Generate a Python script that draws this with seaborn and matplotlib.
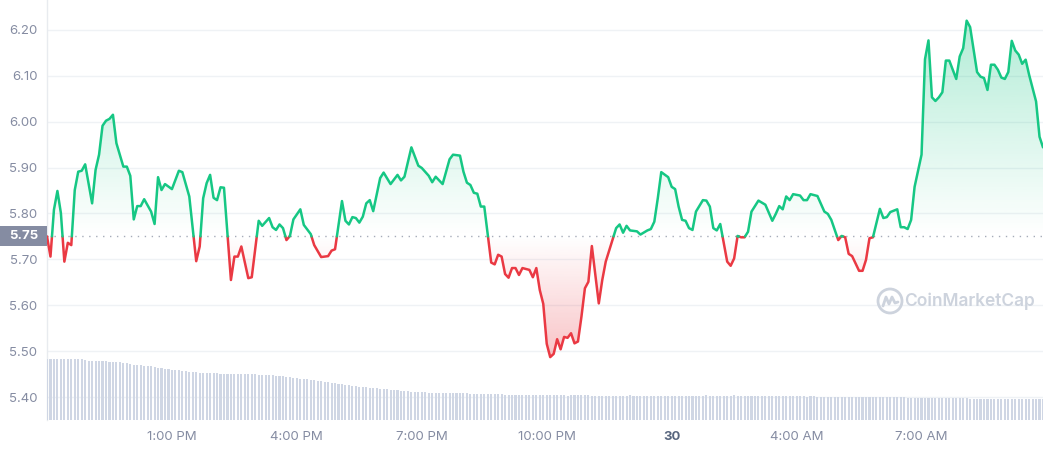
import numpy as np
import pandas as pd
import matplotlib
matplotlib.use("Agg")
import matplotlib.pyplot as plt
import seaborn as sns
import matplotlib.transforms as mtransforms
from matplotlib.path import Path
from matplotlib.patches import PathPatch, Rectangle, Ellipse
from matplotlib.lines import Line2D

# price series: minutes after 10:00 AM, price in USD
minutes = [0, 5, 10, 15, 20, 25, 30, 35, 40, 45, 50, 55, 65, 70, 75, 80, 85, 90, 95, 100,
           110, 115, 120, 125, 130, 135, 140, 150, 155, 160, 165, 170, 180, 190, 195, 205,
           215, 220, 225, 230, 235, 240, 245, 250, 255, 265, 270, 275, 280, 290, 295, 305,
           310, 320, 325, 330, 335, 340, 345, 350, 355, 365, 370, 380, 385, 395, 405, 410,
           415, 425, 430, 435, 440, 445, 450, 455, 460, 465, 470, 480, 485, 495, 505, 510,
           515, 525, 535, 540, 550, 555, 560, 570, 580, 585, 595, 600, 605, 610, 615, 620,
           625, 630, 640, 645, 650, 655, 660, 665, 670, 675, 680, 685, 695, 700, 705, 710,
           715, 720, 725, 730, 735, 740, 745, 750, 755, 760, 765, 770, 775, 780, 785, 795,
           800, 805, 820, 825, 830, 835, 840, 850, 855, 865, 870, 875, 880, 885, 895, 900,
           905, 910, 915, 920, 925, 930, 935, 945, 950, 955, 960, 965, 970, 980, 985, 990,
           995, 1000, 1005, 1010, 1015, 1025, 1035, 1045, 1050, 1055, 1060, 1065, 1070, 1075,
           1085, 1090, 1095, 1100, 1110, 1120, 1125, 1130, 1140, 1145, 1150, 1155, 1160, 1165,
           1170, 1175, 1180, 1185, 1190, 1195, 1200, 1205, 1210, 1215, 1225, 1230, 1235, 1240,
           1245, 1250, 1260, 1265, 1270, 1275, 1280, 1285, 1290, 1295, 1300, 1310, 1315, 1320,
           1325, 1330, 1340, 1345, 1350, 1355, 1360, 1365, 1370, 1375, 1380, 1385, 1390, 1395,
           1400, 1405, 1410, 1415, 1420, 1425, 1430, 1435]
price = [5.750, 5.706, 5.808, 5.849, 5.801, 5.695, 5.736, 5.731, 5.851, 5.891, 5.893, 5.907,
         5.822, 5.895, 5.928, 5.991, 6.002, 6.006, 6.015, 5.953, 5.902, 5.902, 5.882, 5.787,
         5.816, 5.816, 5.831, 5.804, 5.777, 5.879, 5.851, 5.864, 5.853, 5.893, 5.890, 5.837,
         5.696, 5.728, 5.833, 5.866, 5.884, 5.834, 5.829, 5.857, 5.856, 5.655, 5.706, 5.706,
         5.728, 5.659, 5.661, 5.784, 5.773, 5.790, 5.770, 5.764, 5.776, 5.768, 5.742, 5.751,
         5.787, 5.809, 5.775, 5.755, 5.731, 5.705, 5.707, 5.719, 5.722, 5.827, 5.784, 5.776,
         5.792, 5.790, 5.780, 5.793, 5.822, 5.829, 5.805, 5.877, 5.889, 5.864, 5.884, 5.872,
         5.880, 5.944, 5.904, 5.899, 5.882, 5.868, 5.880, 5.864, 5.918, 5.928, 5.926, 5.891,
         5.867, 5.862, 5.845, 5.843, 5.815, 5.815, 5.693, 5.689, 5.710, 5.706, 5.668, 5.660,
         5.681, 5.681, 5.666, 5.681, 5.677, 5.661, 5.681, 5.633, 5.603, 5.516, 5.487, 5.494,
         5.526, 5.504, 5.531, 5.529, 5.539, 5.517, 5.521, 5.575, 5.637, 5.651, 5.729, 5.604,
         5.655, 5.695, 5.768, 5.776, 5.758, 5.773, 5.763, 5.761, 5.754, 5.763, 5.766, 5.782,
         5.833, 5.890, 5.879, 5.858, 5.853, 5.815, 5.786, 5.784, 5.768, 5.764, 5.804, 5.829,
         5.828, 5.815, 5.768, 5.763, 5.777, 5.695, 5.686, 5.702, 5.751, 5.748, 5.748, 5.760,
         5.804, 5.828, 5.819, 5.784, 5.799, 5.816, 5.809, 5.837, 5.829, 5.842, 5.839, 5.829,
         5.829, 5.842, 5.838, 5.804, 5.799, 5.786, 5.742, 5.751, 5.748, 5.712, 5.707, 5.691,
         5.675, 5.675, 5.699, 5.746, 5.748, 5.779, 5.810, 5.790, 5.792, 5.803, 5.809, 5.770,
         5.770, 5.766, 5.786, 5.858, 5.928, 6.136, 6.177, 6.053, 6.045, 6.053, 6.064, 6.133,
         6.133, 6.093, 6.142, 6.160, 6.220, 6.206, 6.108, 6.098, 6.095, 6.069, 6.124, 6.124,
         6.113, 6.096, 6.093, 6.108, 6.176, 6.155, 6.146, 6.126, 6.135, 6.102, 6.073, 6.044,
         5.967, 5.944]

# volume bars, one every 5 minutes (relative units)
volume = [
    61, 61.5, 61, 61.5, 61, 61.5, 61.5, 61, 61.5, 61, 61, 60, 59.5, 59.5, 59.5, 59.5, 59, 59, 58.5, 58.5, 58, 58, 57.5, 57,
    56, 55.5, 55, 55, 54.5, 54, 54, 53, 52.5, 52, 51.5, 51, 50.5, 50, 50, 49.5, 49, 48.5, 48, 48, 47.5, 47.5, 47.5, 47,
    47, 47, 46.5, 46.5, 46.5, 46, 46, 46, 46.5, 46.5, 46, 46, 46, 45.5, 45.5, 45.5, 45, 45, 44.5, 44, 44, 43.5, 43, 42.5,
    42, 41.5, 41, 41, 40.5, 40, 39.5, 39, 38.5, 38, 37.5, 37, 36.5, 36, 35.5, 35, 34.5, 34, 33.5, 33, 33, 32.5, 32, 32,
    31.5, 31, 31, 30.5, 30, 30, 29.5, 29, 29, 28.5, 28.5, 28, 28, 28, 27.5, 27.5, 27.5, 27, 27, 27, 27, 27, 27, 27,
    27, 27, 26.5, 26.5, 26.5, 26.5, 26, 26, 26, 26, 26, 26, 25.5, 25.5, 25.5, 25.5, 25, 25, 25, 25, 25, 25, 25, 25,
    25, 25, 25, 25, 25, 25, 24.5, 25, 25, 25, 25, 25, 25, 24, 24, 24, 24, 24, 24, 24, 24.5, 24, 24, 24,
    25, 24, 24, 24, 24, 24, 24, 24, 24, 24, 24, 24, 24, 24, 24, 24, 24, 24.5, 24, 24, 24, 24, 25, 24,
    24, 24.5, 24, 24, 24.5, 24, 25, 24, 24.5, 24.5, 24, 24, 24, 24, 24.5, 24, 24, 24, 24, 24, 24, 24, 24, 24,
    24, 24, 24, 23.5, 24, 24, 23.5, 23.5, 23.5, 23.5, 23.5, 23.5, 23.5, 23, 23, 23, 23, 23, 23, 23, 23, 23, 23, 23,
    23, 23, 23, 23, 23, 23, 23, 23, 22.5, 22.5, 22.5, 22.5, 22.5, 22.5, 22, 22, 22, 22, 22, 22, 22, 22, 22, 22,
    22, 22, 21.5, 21.5, 21.5, 21.5, 21.5, 21.5, 21, 21, 21, 21, 21, 21, 21, 21, 21, 21, 21, 21, 21, 21, 21, 21,
]
vol_minutes = list(range(0, 1440, 5))

base_price = 5.75
y_ticks = [5.40, 5.50, 5.60, 5.70, 5.80, 5.90, 6.00, 6.10, 6.20]
x_ticks = [180, 360, 540, 720, 900, 1080, 1260]
x_labels = ["1:00 PM", "4:00 PM", "7:00 PM", "10:00 PM", "30", "4:00 AM", "7:00 AM"]

GREEN = "#16c784"
RED = "#ea3943"
GREY = "#858ca2"

sns.set_style("white")
plt.rcParams["font.family"] = ["Inter", "DejaVu Sans"]

# add crossing points at the base price so colours switch exactly there
t_d, p_d = [minutes[0]], [price[0]]
for i in range(1, len(minutes)):
    t0, p0, t1, p1 = minutes[i - 1], price[i - 1], minutes[i], price[i]
    if (p0 - base_price) * (p1 - base_price) < 0:
        t_d.append(t0 + (base_price - p0) / (p1 - p0) * (t1 - t0))
        p_d.append(base_price)
    t_d.append(t1)
    p_d.append(p1)
t_d = np.array(t_d)
p_d = np.array(p_d)

# split into runs above / below the base
rows = []
seg = 0
prev_side = None
for k in range(len(t_d) - 1):
    side = "up" if (p_d[k] + p_d[k + 1]) / 2 >= base_price else "down"
    if side != prev_side:
        seg += 1
        rows.append((t_d[k], p_d[k], side, seg))
        prev_side = side
    rows.append((t_d[k + 1], p_d[k + 1], side, seg))
df = pd.DataFrame(rows, columns=["t", "price", "side", "seg"])

fig = plt.figure(figsize=(10.45, 4.5), dpi=100)
ax = fig.add_axes([47 / 1045, 30 / 450, 996 / 1045, 420 / 450])

ax.set_ylim(5.35, 6.265)
ax.set_yticks(y_ticks)
ax.set_yticklabels([f"{v:.2f}" for v in y_ticks])
ax.grid(axis="y", color="#eff2f5", linewidth=1)
ax.grid(axis="x", visible=False)


def gradient_fill(color, up):
    rgb = matplotlib.colors.to_rgb(color)
    img = np.zeros((256, 1, 4))
    img[:, 0, :3] = rgb
    if up:
        img[:, 0, 3] = np.linspace(0.0, 0.33, 256)
        extent = (t_d[0], t_d[-1], base_price, max(price))
        edge = np.maximum(p_d, base_price)
    else:
        img[:, 0, 3] = np.linspace(0.3, 0.0, 256)
        extent = (t_d[0], t_d[-1], min(price), base_price)
        edge = np.minimum(p_d, base_price)
    verts = [(t_d[0], base_price)] + list(zip(t_d, edge)) + [(t_d[-1], base_price), (t_d[0], base_price)]
    patch = PathPatch(Path(verts, closed=True), facecolor="none", edgecolor="none")
    ax.add_patch(patch)
    im = ax.imshow(img, extent=extent, origin="lower", aspect="auto", zorder=1,
                   interpolation="bilinear")
    im.set_clip_path(patch)


gradient_fill(GREEN, True)
gradient_fill(RED, False)

ax.axhline(base_price, color="#a6acb9", linewidth=1, linestyle=(0, (1, 4)), zorder=2)

sns.lineplot(data=df, x="t", y="price", hue="side", units="seg", estimator=None, sort=False,
             palette={"up": GREEN, "down": RED}, legend=False, linewidth=1.8, ax=ax, zorder=3)

# volume panel
axv = ax.twinx()
sns.barplot(x=vol_minutes, y=volume, native_scale=True, color="#cfd6e4", saturation=1,
            width=0.6, linewidth=0, errorbar=None, ax=axv)
axv.set_ylim(0, 420)
axv.axis("off")

ax.set_xlim(0, 1435)
ax.set_ylim(5.35, 6.265)
ax.set_xticks(x_ticks)
ax.set_xticklabels(x_labels)
ax.set_xlabel("")
ax.set_ylabel("")
ax.tick_params(axis="y", length=0, pad=7, labelsize=9.5, labelcolor=GREY)
ax.tick_params(axis="x", length=3, width=1, color="#c3c8d2", pad=5, labelsize=9.5, labelcolor=GREY)
lab = ax.get_xticklabels()[4]
lab.set_fontweight("bold")
lab.set_color("#58667e")
for s in ["top", "right", "bottom"]:
    ax.spines[s].set_visible(False)
ax.spines["left"].set_color("#e8ebef")
ax.spines["left"].set_linewidth(1)

# base price tag on the left
tr = mtransforms.blended_transform_factory(ax.transAxes, ax.transData)
ax.add_patch(Rectangle((-47 / 996, 5.7285), 47 / 996, 0.0436, transform=tr,
                       facecolor=GREY, edgecolor="none", clip_on=False, zorder=5))
ax.text(-23.5 / 996, base_price, "5.75", transform=tr, ha="center", va="center",
        color="white", fontsize=9.5, fontweight="bold", zorder=6)

# watermark
wm = "#cdd3dd"
fig.text(904 / 1045, 1 - 301 / 450, "CoinMarketCap", ha="left", va="center",
         fontsize=12.5, fontweight="semibold", color=wm)
fig.add_artist(Ellipse((890 / 1045, 1 - 301 / 450), 24 / 1045, 24 / 450,
                       transform=fig.transFigure, fill=False, edgecolor=wm, linewidth=2))
mx = [(-7, -5), (-4, 4), (-1, -3), (2, 4), (5, -2), (8, -1)]
fig.add_artist(Line2D([(890 + dx) / 1045 for dx, dy in mx],
                      [1 - (301 - dy) / 450 for dx, dy in mx],
                      transform=fig.transFigure, color=wm, linewidth=2))

fig.savefig("out.png", dpi=100)
